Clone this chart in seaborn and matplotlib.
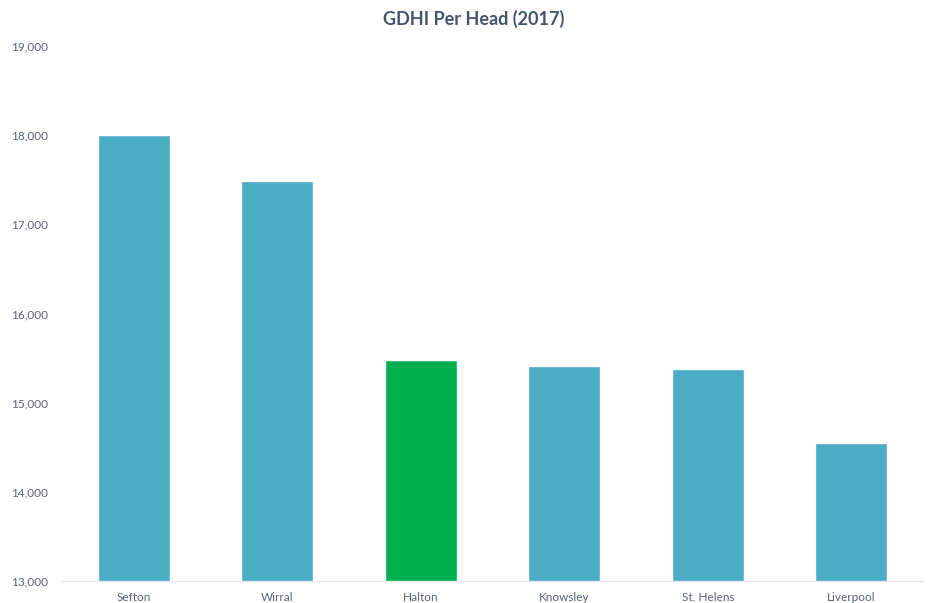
import pandas as pd
import matplotlib
matplotlib.use('Agg')
import matplotlib.pyplot as plt
import seaborn as sns

# Data
areas = ['Sefton', 'Wirral', 'Halton', 'Knowsley', 'St. Helens', 'Liverpool']
gdhi = [18000, 17485, 15478, 15413, 15376, 14550]
highlight = 'Halton'

df = pd.DataFrame({'Area': areas, 'GDHI': gdhi})

sns.set_style('white')
plt.rcParams['font.family'] = ['Lato', 'DejaVu Sans']

blue = '#4BACC6'
green = '#00B050'
palette = {a: (green if a == highlight else blue) for a in areas}

fig = plt.figure(figsize=(9.32, 6.03), dpi=100)
ax = fig.add_axes([62 / 932, 1 - 581 / 603, (923 - 62) / 932, (581 - 46) / 603])

sns.barplot(data=df, x='Area', y='GDHI', hue='Area', palette=palette,
            order=areas, width=0.5, legend=False, ax=ax, saturation=1)

ax.set_ylim(13000, 19000)
ax.set_xlim(-0.5, 5.5)
ax.set_yticks(range(13000, 19001, 1000))
ax.set_yticklabels([f'{v:,}' for v in range(13000, 19001, 1000)])
ax.set_xlabel('')
ax.set_ylabel('')

for s in ['top', 'right', 'left']:
    ax.spines[s].set_visible(False)
ax.spines['bottom'].set_color('#E4E8EE')
ax.spines['bottom'].set_linewidth(1)

ax.tick_params(axis='both', length=0, labelsize=8.5, labelcolor='#5A6374')
ax.tick_params(axis='y', pad=10)
ax.tick_params(axis='x', pad=8)

fig.text(474 / 932, 1 - 19 / 603, 'GDHI Per Head (2017)', ha='center', va='center',
         fontsize=13, fontweight='bold', color='#44546A')

fig.savefig('out.png', dpi=100)
